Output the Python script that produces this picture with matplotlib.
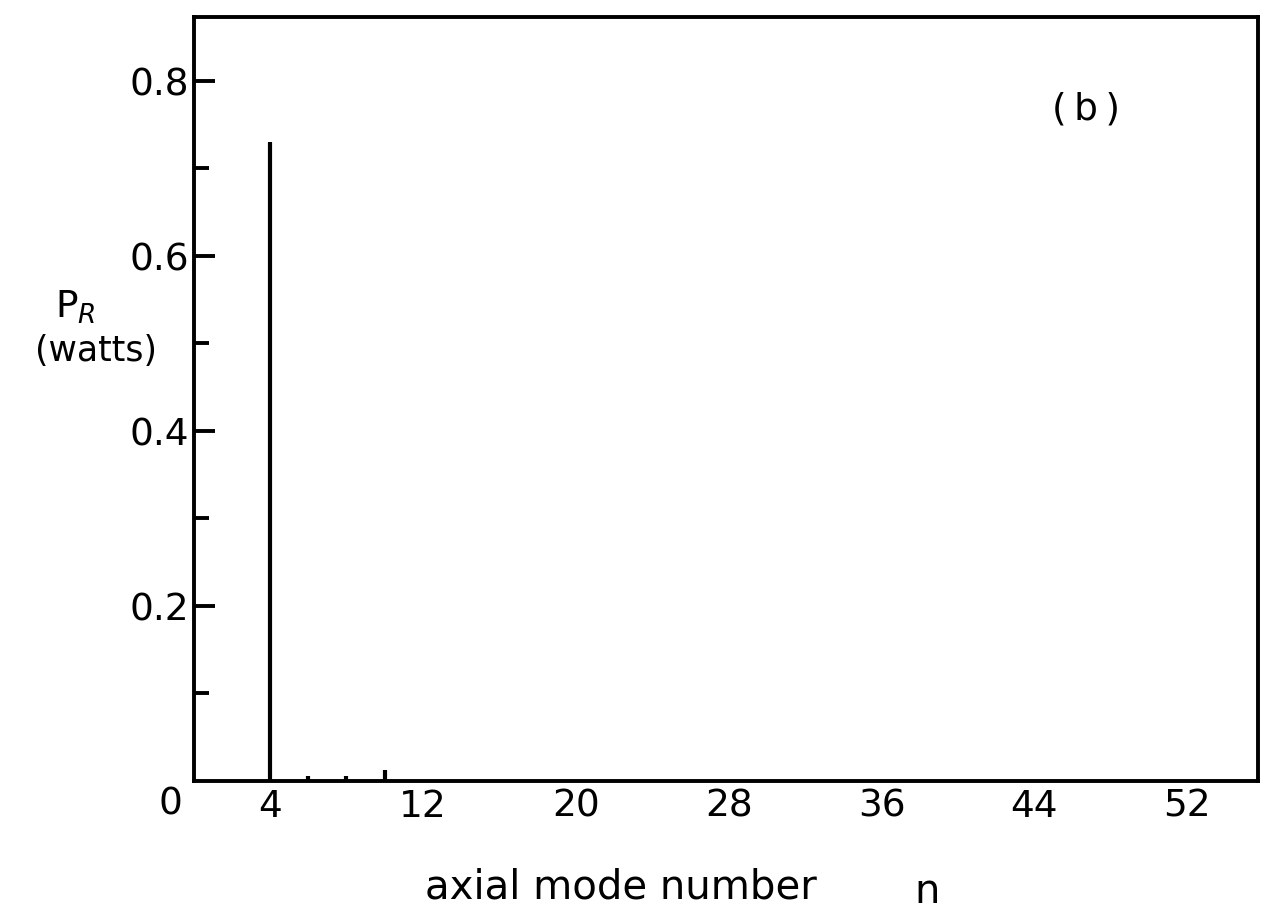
import numpy as np
import matplotlib
matplotlib.use("Agg")
import matplotlib.pyplot as plt
from matplotlib.ticker import FixedLocator

# data
modes = [4, 6, 8, 10]
power = [0.73, 0.006, 0.006, 0.012]
x_ticks = [4, 12, 20, 28, 36, 44, 52]
y_ticks = [0.2, 0.4, 0.6, 0.8]
y_tick_labels = ["0.2", "0.4", "0.6", "0.8"]
y_minor = [0.1, 0.3, 0.5, 0.7]

plt.rcParams['font.family'] = ['DejaVu Sans']
plt.rcParams['mathtext.fontset'] = 'dejavusans'

W, H = 1273, 920
fig = plt.figure(figsize=(W / 100, H / 100), dpi=100)
ax = fig.add_axes([193.6 / W, 1 - 782 / H, (1258 - 193.6) / W, (782 - 18) / H])

# spectral lines
ax.vlines(modes, 0, power, colors='black', linewidth=3)

ax.set_xlim(0, 55.7)
ax.set_ylim(0, 0.873)

for s in ax.spines.values():
    s.set_linewidth(2.8)

ax.set_xticks(x_ticks)
ax.set_xticklabels([str(v) for v in x_ticks], fontsize=27)
ax.tick_params(axis='x', length=0, pad=5)

ax.set_yticks(y_ticks)
ax.set_yticklabels(y_tick_labels, fontsize=27)
ax.yaxis.set_minor_locator(FixedLocator(y_minor))
ax.tick_params(axis='y', which='major', direction='in', length=15, width=2.8, pad=3)
ax.tick_params(axis='y', which='minor', direction='in', length=11, width=2.8)

# origin label
fig.text(170 / W, 1 - 805 / H, "0", fontsize=27, ha='center', va='center')

ax.text(46.7, 0.768, "(\u2009b\u2009)", fontsize=27, ha='center', va='center')

fig.text(75 / W, 1 - 318 / H, r"P$_R$", fontsize=27, ha='center', va='baseline')
fig.text(96 / W, 1 - 351 / H, "(watts)", fontsize=25, ha='center', va='center')

fig.text(425 / W, 1 - 899 / H, "axial mode number", fontsize=29, ha='left', va='baseline')
fig.text(927 / W, 1 - 903 / H, "n", fontsize=29, ha='center', va='baseline')

fig.savefig("out.png", dpi=100)
